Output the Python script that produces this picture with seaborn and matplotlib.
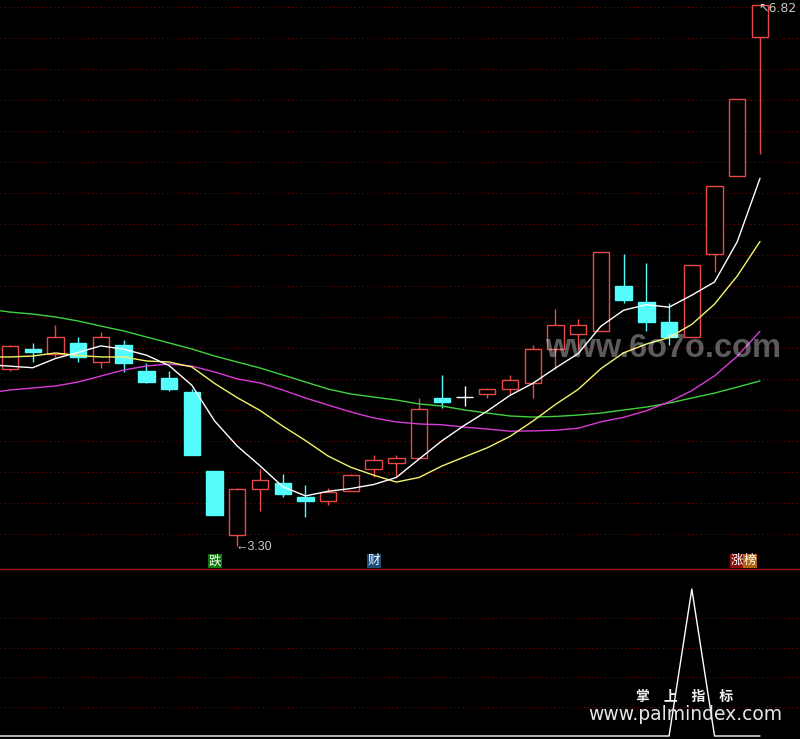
import matplotlib
matplotlib.use("Agg")
import matplotlib.pyplot as plt
import numpy as np
import pandas as pd
import seaborn as sns

# ---------------- data ----------------
opens  = [4.45, 4.58, 4.55, 4.62, 4.50, 4.61, 4.44, 4.39, 4.30, 3.79,
          3.37, 3.67, 3.71, 3.62, 3.59, 3.66, 3.80, 3.84, 3.87, 4.26,
          4.27, 4.29, 4.32, 4.36, 4.58, 4.68, 4.70, 4.99, 4.89, 4.76,
          4.66, 5.20, 5.71, 6.61]
highs  = [4.61, 4.62, 4.74, 4.66, 4.69, 4.64, 4.49, 4.44, 4.32, 3.79,
          3.68, 3.80, 3.77, 3.70, 3.68, 3.77, 3.89, 3.89, 4.26, 4.41,
          4.34, 4.33, 4.41, 4.61, 4.84, 4.78, 5.21, 5.20, 5.14, 4.88,
          5.13, 5.64, 6.21, 6.82]
lows   = [4.44, 4.50, 4.53, 4.50, 4.46, 4.43, 4.36, 4.31, 3.89, 3.50,
          3.30, 3.53, 3.62, 3.49, 3.57, 3.66, 3.75, 3.75, 3.87, 4.20,
          4.21, 4.26, 4.29, 4.26, 4.45, 4.58, 4.70, 4.88, 4.70, 4.61,
          4.66, 5.08, 5.71, 5.85]
closes = [4.60, 4.56, 4.66, 4.53, 4.66, 4.49, 4.37, 4.32, 3.89, 3.50,
          3.67, 3.73, 3.64, 3.59, 3.65, 3.76, 3.86, 3.87, 4.19, 4.24,
          4.27, 4.32, 4.38, 4.58, 4.74, 4.74, 5.21, 4.90, 4.76, 4.66,
          5.13, 5.64, 6.21, 6.82]

# moving averages, first value belongs to the bar just before the window
ma5  = [4.48, 4.47, 4.46, 4.52, 4.56, 4.602, 4.58, 4.542, 4.474, 4.346,
        4.114, 3.95, 3.822, 3.686, 3.626, 3.656, 3.674, 3.70, 3.746, 3.866,
        3.984, 4.086, 4.178, 4.28, 4.358, 4.458, 4.552, 4.73, 4.834, 4.87,
        4.854, 4.932, 5.018, 5.28, 5.692]
ma10 = [4.53, 4.53, 4.536, 4.556, 4.54, 4.53, 4.53, 4.504, 4.497, 4.465,
        4.358, 4.265, 4.182, 4.08, 3.986, 3.885, 3.812, 3.761, 3.716, 3.746,
        3.82, 3.88, 3.939, 4.013, 4.112, 4.221, 4.319, 4.454, 4.557, 4.614,
        4.656, 4.742, 4.874, 5.057, 5.281]
ma20 = [4.295, 4.315, 4.328, 4.341, 4.367, 4.406, 4.445, 4.471, 4.484, 4.471,
        4.432, 4.387, 4.361, 4.315, 4.263, 4.217, 4.172, 4.133, 4.107, 4.094,
        4.089, 4.073, 4.061, 4.047, 4.049, 4.053, 4.066, 4.108, 4.137, 4.18,
        4.238, 4.311, 4.407, 4.535, 4.697]
ma60 = [4.842, 4.822, 4.809, 4.790, 4.764, 4.731, 4.699, 4.660, 4.621, 4.582,
        4.536, 4.497, 4.458, 4.413, 4.367, 4.321, 4.289, 4.269, 4.250, 4.224,
        4.211, 4.185, 4.165, 4.146, 4.139, 4.143, 4.152, 4.165, 4.185, 4.204,
        4.230, 4.263, 4.295, 4.334, 4.374]

signal = [0, 0, 0, 0, 0, 0, 0, 0, 0, 0,
          0, 0, 0, 0, 0, 0, 0, 0, 0, 0,
          0, 0, 0, 0, 0, 0, 0, 0, 0, 0,
          0, 1, 0, 0, 0]

marker_text  = ["跌", "财", "涨", "榜"]
marker_bar   = [9, 16, 32, 32]
marker_shift = [0, 0, 0, 1]
marker_bg    = ["#0b7a0b", "#1b4c7c", "#8a0f0f", "#b0640e"]

low_label  = "←3.30"
high_label = "↖6.82"

# ---------------- style ----------------
sns.set_theme(style="dark", rc={"axes.facecolor": "black", "figure.facecolor": "black"})
plt.rcParams["font.family"] = ["DejaVu Sans", "Noto Sans CJK SC"]

RED = "#e84848"
CYAN = "#55fcfc"
GRID = "#8a0000"

W, H = 800, 739
SPLIT = 569
fig = plt.figure(figsize=(W / 100, H / 100), dpi=100, facecolor="black")
ax = fig.add_axes([0, 1 - SPLIT / H, 1, SPLIT / H])
ax2 = fig.add_axes([0, 0, 1, (H - SPLIT) / H])

n = len(closes)
ma_x = np.arange(-1, n)
XLIM = (-0.44, n + 0.76)

for a in (ax, ax2):
    a.set_facecolor("black")
    a.set_xlim(*XLIM)
    a.set_xticks([])
    a.set_yticks([])
    a.grid(False)
    for s in a.spines.values():
        s.set_visible(False)

ax.set_ylim(3.1504, 6.8524)
ax2.set_ylim(-3 / 147, (H - SPLIT - 3) / 147)
ax2.spines["top"].set_visible(True)
ax2.spines["top"].set_color("#9a1616")
ax2.spines["top"].set_linewidth(1.0)

# dotted grid rows
for r in np.arange(7, 535, 31):
    ax.plot([0, 1], [1 - r / SPLIT] * 2, transform=ax.transAxes,
            color=GRID, lw=0.75, ls=(0, (1, 3)), zorder=0)
for g in (0.2, 0.4, 0.6, 0.8):
    ax2.axhline(g, color=GRID, lw=0.75, ls=(0, (1, 3)), zorder=0)

# candles
BW = 0.72
LW = 1.0
for i in range(n):
    o, h, l, c = opens[i], highs[i], lows[i], closes[i]
    if c > o:
        ax.vlines(i, c, h, color=RED, lw=LW, zorder=2)
        ax.vlines(i, l, o, color=RED, lw=LW, zorder=2)
        ax.bar(i, c - o, bottom=o, width=BW, facecolor="black",
               edgecolor=RED, linewidth=LW, zorder=3)
    elif c < o:
        ax.vlines(i, l, h, color=CYAN, lw=LW, zorder=2)
        ax.bar(i, o - c, bottom=c, width=BW, facecolor=CYAN,
               edgecolor=CYAN, linewidth=LW, zorder=3)
    else:
        ax.vlines(i, l, h, color="white", lw=LW, zorder=2)
        ax.hlines(o, i - BW / 2, i + BW / 2, color="white", lw=LW, zorder=3)

# moving averages
ma_df = pd.DataFrame({"x": ma_x, "MA5": ma5, "MA10": ma10, "MA20": ma20, "MA60": ma60})
for col, colr in (("MA60", "#3fd23f"), ("MA20", "#d83cd8"),
                  ("MA10", "#f4f46a"), ("MA5", "#ffffff")):
    sns.lineplot(data=ma_df, x="x", y=col, color=colr, lw=1.0, ax=ax,
                 zorder=4, legend=False)
ax.set_xlim(*XLIM)
ax.set_xlabel("")
ax.set_ylabel("")

# signal panel
sig_df = pd.DataFrame({"x": ma_x, "v": signal})
sns.lineplot(data=sig_df, x="x", y="v", color="white", lw=1.0, ax=ax2, zorder=3)
ax2.set_xlim(*XLIM)
ax2.set_xlabel("")
ax2.set_ylabel("")

# low / high labels
ax.annotate(low_label, xy=(int(np.argmin(lows)), min(lows)), xytext=(-1, -0.5),
            textcoords="offset points", ha="left", va="center",
            color="#c8c8c8", fontsize=9, family=["Liberation Sans", "DejaVu Sans"], zorder=6)
ax.annotate(high_label, xy=(int(np.argmax(highs)), max(highs)), xytext=(-1, 2),
            textcoords="offset points", ha="left", va="top",
            color="#c8c8c8", fontsize=9, family=["DejaVu Sans", "Liberation Sans"], zorder=6)

# markers on the bottom of the price panel
FS = 9
for t, b, sft, bg in zip(marker_text, marker_bar, marker_shift, marker_bg):
    ax.annotate(t, xy=(b, 0), xycoords=("data", "axes fraction"),
                xytext=(sft * FS * 0.98, 1.2), textcoords="offset points",
                ha="center", va="bottom", color="white", fontsize=FS,
                family=["Noto Sans CJK SC", "DejaVu Sans"], zorder=7,
                bbox=dict(boxstyle="square,pad=0.06", fc=bg, ec="none"))

# watermarks
fig.text(663 / W, 1 - 348 / H, "www.6o7o.com", ha="center", va="center",
         fontsize=23.5, fontweight="bold", family=["Liberation Sans", "DejaVu Sans"],
         color="white", alpha=0.36, zorder=10)
fig.text(685 / W, 1 - 697 / H, "掌\u3000上\u3000指\u3000标", ha="center", va="center",
         fontsize=10, fontweight="bold", family=["Noto Sans CJK SC", "DejaVu Sans"],
         color="#f0f0f0", zorder=10)
fig.text(685 / W, 1 - 715 / H, "www.palmindex.com", ha="center", va="center",
         fontsize=13.5, family=["DejaVu Sans"], color="#e6e6e6", zorder=10)

fig.savefig("out.png", dpi=100, facecolor="black")
